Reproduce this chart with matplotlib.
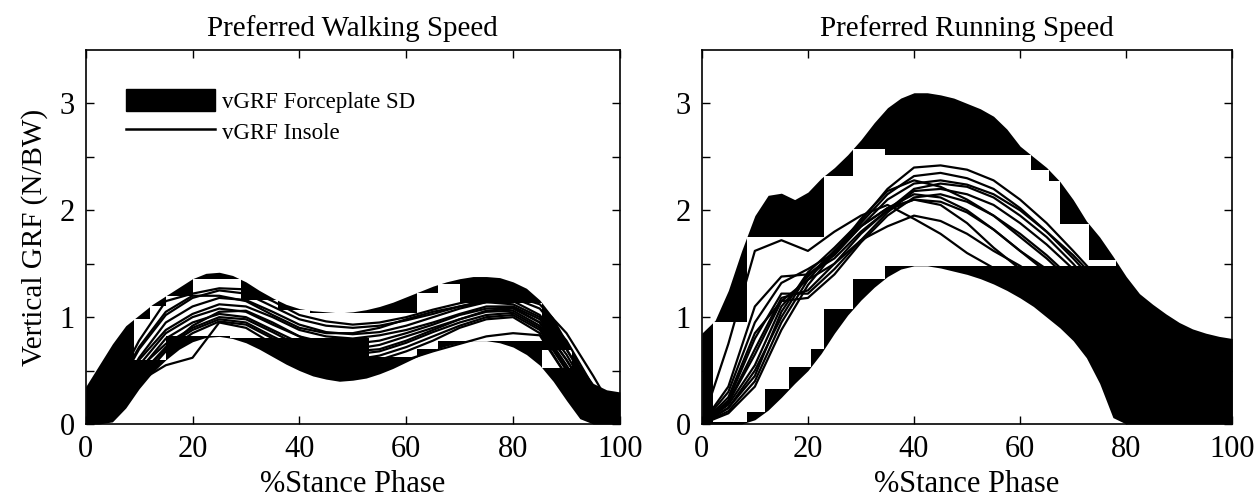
import numpy as np
import matplotlib
matplotlib.use('Agg')
from matplotlib import pyplot as plt
from matplotlib.patches import Patch
from matplotlib.lines import Line2D

plt.rcParams['font.family'] = ['Liberation Serif', 'DejaVu Serif']

# forceplate mean +/- SD band, sampled every 2.5 % of stance
band_x = np.arange(0, 100.01, 2.5)

walk_upper = [0.35, 0.55, 0.75, 0.92, 1.02, 1.12, 1.20, 1.28, 1.36, 1.41, 1.42, 1.39, 1.33, 1.25,
              1.18, 1.12, 1.08, 1.06, 1.05, 1.04, 1.05, 1.07, 1.10, 1.14, 1.19, 1.24, 1.29, 1.33,
              1.36, 1.38, 1.38, 1.37, 1.33, 1.27, 1.16, 1.00, 0.78, 0.55, 0.38, 0.32, 0.30]
walk_lower = [0.00, 0.00, 0.02, 0.15, 0.33, 0.48, 0.60, 0.70, 0.77, 0.81, 0.82, 0.80, 0.76, 0.70,
              0.63, 0.56, 0.50, 0.45, 0.42, 0.40, 0.41, 0.43, 0.47, 0.52, 0.58, 0.64, 0.69, 0.73,
              0.76, 0.78, 0.78, 0.76, 0.72, 0.65, 0.55, 0.40, 0.22, 0.05, 0.00, 0.00, 0.00]

run_upper = [0.85, 0.97, 1.25, 1.62, 1.95, 2.14, 2.16, 2.10, 2.17, 2.30, 2.40, 2.52, 2.66, 2.82,
             2.96, 3.05, 3.10, 3.10, 3.08, 3.05, 3.00, 2.95, 2.88, 2.76, 2.60, 2.50, 2.40, 2.27,
             2.10, 1.90, 1.75, 1.57, 1.38, 1.22, 1.12, 1.03, 0.95, 0.89, 0.85, 0.82, 0.80]
run_lower = [0.00, 0.00, 0.00, 0.00, 0.04, 0.13, 0.25, 0.38, 0.50, 0.66, 0.85, 1.02, 1.16, 1.28,
             1.38, 1.45, 1.48, 1.48, 1.46, 1.43, 1.40, 1.36, 1.31, 1.25, 1.18, 1.10, 1.00, 0.90,
             0.78, 0.62, 0.38, 0.06, 0.00, 0.00, 0.00, 0.00, 0.00, 0.00, 0.00, 0.00, 0.00]

# segments the band polygon is split into (upper / lower edge)
walk_up_seg = [9, 12, 15, 20, 29, 36, 42, 62, 66, 70, 85.5, 91]
walk_lo_seg = [9, 15, 27, 53, 62, 66, 75, 85.5, 91]
run_up_seg = [2.2, 8.5, 23, 28.5, 34.5, 62, 65.5, 67.5, 73, 78]
run_lo_seg = [2.2, 8.5, 12, 16.5, 20.5, 23, 28.5, 34.5, 78]

# insole vGRF, one row per trial, every 5 % of stance
insole_x = np.arange(0, 100.01, 5)

walk_insole = [
    [0.00, 0.30, 0.78, 1.15, 1.22, 1.27, 1.26, 1.15, 1.02, 0.96, 0.93, 0.95, 1.00, 1.07, 1.13, 1.18, 1.20, 1.12, 0.85, 0.45, 0.02],
    [0.00, 0.25, 0.70, 1.02, 1.18, 1.25, 1.22, 1.10, 0.98, 0.92, 0.90, 0.92, 0.97, 1.03, 1.10, 1.16, 1.18, 1.08, 0.78, 0.35, 0.02],
    [0.00, 0.20, 0.62, 0.95, 1.10, 1.18, 1.16, 1.05, 0.93, 0.86, 0.84, 0.86, 0.92, 1.00, 1.08, 1.14, 1.15, 1.02, 0.70, 0.28, 0.00],
    [0.00, 0.22, 0.60, 0.88, 1.03, 1.12, 1.10, 1.00, 0.88, 0.82, 0.80, 0.83, 0.88, 0.95, 1.03, 1.10, 1.10, 0.98, 0.65, 0.22, 0.00],
    [0.00, 0.18, 0.55, 0.85, 1.00, 1.08, 1.05, 0.93, 0.82, 0.76, 0.75, 0.78, 0.85, 0.93, 1.02, 1.08, 1.09, 0.95, 0.60, 0.20, 0.00],
    [0.00, 0.15, 0.50, 0.80, 0.95, 1.03, 1.00, 0.88, 0.76, 0.70, 0.70, 0.74, 0.82, 0.90, 0.98, 1.05, 1.06, 0.92, 0.55, 0.15, 0.00],
    [0.00, 0.20, 0.52, 0.75, 0.90, 1.00, 0.98, 0.86, 0.73, 0.66, 0.65, 0.68, 0.76, 0.86, 0.95, 1.02, 1.04, 0.90, 0.52, 0.12, 0.00],
    [0.00, 0.12, 0.45, 0.72, 0.88, 0.98, 0.95, 0.82, 0.70, 0.62, 0.60, 0.64, 0.72, 0.82, 0.92, 1.00, 1.02, 0.88, 0.50, 0.10, 0.00],
    [0.00, 0.10, 0.40, 0.68, 0.85, 0.96, 0.93, 0.80, 0.66, 0.58, 0.57, 0.60, 0.68, 0.78, 0.90, 0.98, 1.00, 0.85, 0.45, 0.08, 0.00],
    [0.00, 0.12, 0.40, 0.55, 0.62, 0.95, 0.90, 0.75, 0.62, 0.55, 0.52, 0.55, 0.60, 0.68, 0.75, 0.82, 0.85, 0.83, 0.45, 0.05, 0.00],
    [0.00, 0.15, 0.45, 0.70, 0.92, 1.05, 1.06, 0.95, 0.82, 0.72, 0.68, 0.70, 0.78, 0.88, 0.98, 1.06, 1.08, 0.95, 0.60, 0.20, 0.00],
    [0.00, 0.28, 0.72, 1.05, 1.20, 1.20, 1.15, 1.02, 0.90, 0.85, 0.85, 0.90, 0.98, 1.05, 1.10, 1.14, 1.12, 1.00, 0.70, 0.30, 0.00],
]

run_insole = [
    [0.00, 0.75, 1.62, 1.72, 1.62, 1.80, 1.95, 2.05, 1.92, 1.78, 1.60, 1.46, 1.30, 1.10, 0.88, 0.65, 0.42, 0.22, 0.08, 0.01, 0.00],
    [0.00, 0.35, 1.10, 1.38, 1.40, 1.55, 1.80, 2.00, 2.10, 2.05, 1.88, 1.65, 1.45, 1.25, 1.02, 0.78, 0.55, 0.32, 0.15, 0.03, 0.00],
    [0.00, 0.30, 0.95, 1.32, 1.45, 1.60, 1.85, 2.02, 2.15, 2.12, 2.00, 1.82, 1.62, 1.42, 1.18, 0.92, 0.68, 0.42, 0.20, 0.05, 0.00],
    [0.00, 0.25, 0.85, 1.15, 1.18, 1.40, 1.70, 1.95, 2.12, 2.15, 2.08, 1.95, 1.78, 1.58, 1.35, 1.10, 0.85, 0.58, 0.32, 0.12, 0.00],
    [0.00, 0.20, 0.70, 1.18, 1.25, 1.50, 1.78, 2.00, 2.20, 2.25, 2.22, 2.12, 1.95, 1.75, 1.50, 1.22, 0.95, 0.65, 0.38, 0.15, 0.00],
    [0.00, 0.15, 0.45, 1.05, 1.42, 1.65, 1.90, 2.20, 2.40, 2.42, 2.38, 2.28, 2.10, 1.88, 1.62, 1.35, 1.05, 0.75, 0.45, 0.20, 0.02],
    [0.00, 0.12, 0.40, 0.95, 1.35, 1.62, 1.88, 2.15, 2.32, 2.35, 2.30, 2.20, 2.02, 1.80, 1.55, 1.28, 0.98, 0.70, 0.42, 0.18, 0.02],
    [0.00, 0.15, 0.50, 1.00, 1.40, 1.58, 1.85, 2.10, 2.25, 2.28, 2.24, 2.15, 2.00, 1.80, 1.58, 1.32, 1.05, 0.75, 0.45, 0.20, 0.02],
    [0.00, 0.18, 0.55, 1.10, 1.38, 1.62, 1.85, 2.02, 2.10, 2.08, 1.98, 1.82, 1.62, 1.45, 1.25, 1.02, 0.78, 0.52, 0.28, 0.10, 0.00],
    [0.00, 0.22, 0.80, 1.22, 1.22, 1.45, 1.72, 1.98, 2.18, 2.20, 2.15, 2.05, 1.88, 1.68, 1.45, 1.20, 0.92, 0.62, 0.35, 0.12, 0.00],
    [0.00, 0.10, 0.35, 0.88, 1.30, 1.60, 1.92, 2.18, 2.28, 2.22, 2.10, 1.95, 1.75, 1.55, 1.32, 1.08, 0.82, 0.55, 0.30, 0.10, 0.00],
    [0.00, 0.20, 0.65, 1.15, 1.35, 1.50, 1.72, 1.85, 1.95, 1.90, 1.78, 1.62, 1.48, 1.32, 1.12, 0.90, 0.68, 0.45, 0.22, 0.06, 0.00],
]


def seg_extreme(x, y, a, b, fn):
	inside = y[(x > a) & (x < b)]
	ends = np.interp([a, b], x, y)
	return fn(np.concatenate([ends, inside]))


def draw_band(ax, x, lo, hi, up_seg, lo_seg):
	lo = np.asarray(lo)
	hi = np.asarray(hi)
	ax.fill_between(x, lo, hi, color='black', lw=0, zorder=1)
	# each polygon segment only keeps its edges; the inner box stays open
	edges = sorted(set(up_seg) | set(lo_seg))
	for a, b in zip(edges[:-1], edges[1:]):
		i = np.searchsorted(up_seg, a, side='right') - 1
		j = np.searchsorted(lo_seg, a, side='right') - 1
		top = seg_extreme(x, hi, up_seg[i], up_seg[i + 1], np.min)
		bot = seg_extreme(x, lo, lo_seg[j], lo_seg[j + 1], np.max)
		if top > bot:
			ax.fill_between([a, b], [bot, bot], [top, top], color='white', lw=0, zorder=1.5)


def style_axes(ax, title):
	ax.set_xlim(0, 100)
	ax.set_ylim(0, 3.5)
	ax.set_xticks([0, 20, 40, 60, 80, 100])
	ax.set_yticks([0, 1, 2, 3])
	ax.set_yticks([0.5, 1.5, 2.5], minor=True)
	ax.tick_params(which='both', direction='in', top=True, right=True, length=6, width=1,
	               labelsize=22, pad=8)
	for s in ax.spines.values():
		s.set_linewidth(1.2)
	ax.set_title(title, fontsize=21, pad=10)
	ax.set_xlabel('%Stance Phase', fontsize=22, labelpad=4)


fig = plt.figure(figsize=(12.6, 5.0), dpi=100)
ax1 = fig.add_axes([0.068, 0.152, 0.424, 0.748])
ax2 = fig.add_axes([0.557, 0.152, 0.421, 0.748])

draw_band(ax1, band_x, walk_lower, walk_upper, walk_up_seg, walk_lo_seg)
for row in walk_insole:
	ax1.plot(insole_x, row, color='black', lw=1.6, zorder=2)
style_axes(ax1, 'Preferred Walking Speed')
ax1.set_ylabel('Vertical GRF (N/BW)', fontsize=21, labelpad=8)

handles = [Patch(facecolor='black', edgecolor='black'),
           Line2D([], [], color='black', lw=1.8)]
ax1.legend(handles, ['vGRF Forceplate SD', 'vGRF Insole'], loc='upper left',
           bbox_to_anchor=(0.036, 0.95), frameon=False, fontsize=16.5,
           handlelength=3.9, handleheight=1.1, handletextpad=0.3, labelspacing=0.3)

draw_band(ax2, band_x, run_lower, run_upper, run_up_seg, run_lo_seg)
for row in run_insole:
	ax2.plot(insole_x, row, color='black', lw=1.6, zorder=2)
style_axes(ax2, 'Preferred Running Speed')

fig.savefig('out.png', dpi=100)
